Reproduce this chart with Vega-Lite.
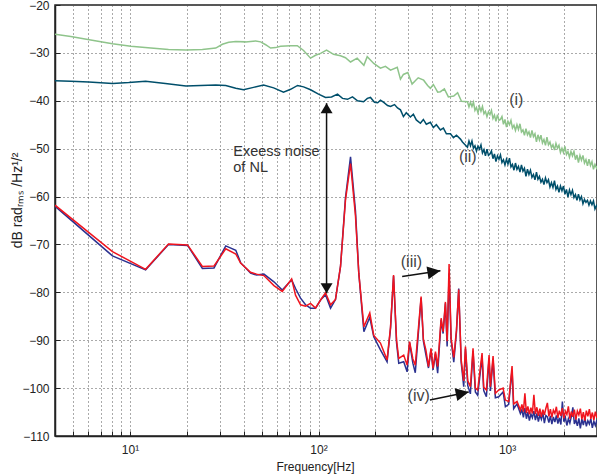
{
  "$schema": "https://vega.github.io/schema/vega-lite/v6.json",
  "width": 542,
  "height": 431,
  "autosize": {"type": "none"},
  "padding": {"left": 55, "top": 5, "right": 0, "bottom": 40},
  "background": "white",
  "config": {
    "font": "Liberation Sans",
    "view": {"stroke": "#222", "strokeWidth": 1.5}
  },
  "datasets": {
    "green": [
      {"f":4.0,"db":-26.1},{"f":4.85,"db":-26.6},{"f":6.19,"db":-27.3},{"f":8.07,"db":-28.1},{"f":10.1,"db":-28.6},{"f":12.9,"db":-29.0},{"f":16.0,"db":-29.3},{"f":19.8,"db":-29.4},{"f":24.2,"db":-29.3},{"f":28.5,"db":-29.0},{"f":30.9,"db":-28.2},{"f":33.4,"db":-27.8},{"f":36.4,"db":-27.6},{"f":41.0,"db":-27.7},{"f":46.4,"db":-27.5},{"f":49.3,"db":-27.7},{"f":52.4,"db":-28.3},{"f":55.7,"db":-29.0},{"f":59.2,"db":-28.9},{"f":62.9,"db":-28.6},{"f":71.1,"db":-28.5},{"f":77.2,"db":-28.5},{"f":83.3,"db":-29.5},{"f":90.7,"db":-31.1},{"f":96.4,"db":-30.5},{"f":102.5,"db":-30.1},{"f":110.3,"db":-29.4},{"f":120.1,"db":-30.3},{"f":130.8,"db":-30.6},{"f":139,"db":-31.0},{"f":147.8,"db":-31.9},{"f":160.3,"db":-31.1},{"f":174,"db":-32.6},{"f":181.2,"db":-30.8},{"f":196.3,"db":-32.2},{"f":213,"db":-33.2},{"f":226.4,"db":-32.8},{"f":241,"db":-33.6},{"f":261.5,"db":-33.0},{"f":272,"db":-35.5},{"f":282,"db":-34.5},{"f":297.5,"db":-34.1},{"f":313.5,"db":-36.5},{"f":326,"db":-35.8},{"f":337.8,"db":-35.2},{"f":361,"db":-35.7},{"f":379,"db":-36.8},{"f":392,"db":-37.4},{"f":406.5,"db":-36.6},{"f":428.6,"db":-38.2},{"f":443,"db":-38.1},{"f":465,"db":-37.5},{"f":488.4,"db":-39.2},{"f":521.6,"db":-39.0},{"f":546.7,"db":-38.3},{"f":573,"db":-40.1},
      {"f":616.6,"db":-40.2},{"f":628.0,"db":-41.3},{"f":639.6,"db":-40.3},{"f":651.4,"db":-41.2},{"f":663.4,"db":-40.3},{"f":675.7,"db":-42.0},{"f":688.2,"db":-41.4},{"f":700.9,"db":-42.5},{"f":713.9,"db":-41.2},{"f":727.1,"db":-42.2},{"f":740.5,"db":-41.2},{"f":754.2,"db":-42.7},{"f":768.1,"db":-42.2},{"f":782.3,"db":-43.3},{"f":796.8,"db":-42.3},{"f":811.5,"db":-42.9},{"f":826.5,"db":-42.0},{"f":841.8,"db":-43.7},{"f":857.4,"db":-43.0},{"f":873.2,"db":-44.3},{"f":889.4,"db":-42.9},{"f":905.8,"db":-44.1},{"f":922.6,"db":-43.9},{"f":939.6,"db":-43.3},{"f":957.0,"db":-44.9},{"f":974.7,"db":-43.9},{"f":992.7,"db":-45.5},{"f":1011.1,"db":-44.3},{"f":1029.8,"db":-45.0},{"f":1048.8,"db":-44.1},{"f":1068.2,"db":-45.7},{"f":1088.0,"db":-45.1},{"f":1108.1,"db":-46.2},{"f":1128.6,"db":-45.0},{"f":1149.4,"db":-46.0},{"f":1170.7,"db":-44.8},{"f":1192.3,"db":-46.5},{"f":1214.4,"db":-46.1},{"f":1236.8,"db":-47.2},{"f":1259.7,"db":-45.8},{"f":1283.0,"db":-47.1},{"f":1306.7,"db":-46.5},{"f":1330.9,"db":-47.7},{"f":1355.5,"db":-46.2},{"f":1380.5,"db":-47.5},{"f":1406.1,"db":-46.9},{"f":1432.1,"db":-48.6},{"f":1458.5,"db":-47.1},{"f":1485.5,"db":-48.2},{"f":1513.0,"db":-47.2},{"f":1541.0,"db":-48.8},{"f":1569.4,"db":-48.1},{"f":1598.5,"db":-49.3},{"f":1628.0,"db":-47.6},{"f":1658.1,"db":-49.2},{"f":1688.8,"db":-48.6},{"f":1720.0,"db":-49.8},{"f":1751.8,"db":-49.2},{"f":1784.2,"db":-50.3},{"f":1817.2,"db":-48.9},{"f":1850.8,"db":-49.9},{"f":1885.0,"db":-49.3},{"f":1919.9,"db":-50.8},{"f":1955.4,"db":-49.9},{"f":1991.5,"db":-50.8},{"f":2028.3,"db":-49.5},{"f":2065.8,"db":-51.2},{"f":2104.0,"db":-50.6},{"f":2142.9,"db":-51.8},{"f":2182.6,"db":-50.6},{"f":2222.9,"db":-51.5},{"f":2264.0,"db":-50.6},{"f":2305.9,"db":-52.3},{"f":2348.5,"db":-51.3},{"f":2391.9,"db":-52.9},{"f":2436.2,"db":-51.4},{"f":2481.2,"db":-52.4},{"f":2527.1,"db":-51.4},{"f":2573.8,"db":-53.0},{"f":2621.4,"db":-52.3},{"f":2669.9,"db":-53.6},{"f":2719.3,"db":-52.2},{"f":2769.5,"db":-53.5},{"f":2820.7,"db":-52.7},{"f":2872.9,"db":-54.3},{"f":2926.0,"db":-53.3},{"f":2980.1,"db":-54.0},{"f":3000,"db":-53.6}
    ],
    "teal": [
      {"f":4.0,"db":-35.8},{"f":4.85,"db":-35.9},{"f":6.04,"db":-36.1},{"f":8.09,"db":-36.4},{"f":9.85,"db":-36.2},{"f":12.1,"db":-35.9},{"f":15.4,"db":-36.4},{"f":19.8,"db":-36.9},{"f":23.7,"db":-36.8},{"f":28.5,"db":-36.7},{"f":32.2,"db":-36.8},{"f":36.4,"db":-37.4},{"f":40.0,"db":-37.7},{"f":45.2,"db":-37.2},{"f":51.1,"db":-36.7},{"f":57.8,"db":-37.3},{"f":65.2,"db":-38.2},{"f":71.1,"db":-37.6},{"f":77.4,"db":-36.8},{"f":83.3,"db":-37.1},{"f":90.7,"db":-37.7},{"f":100,"db":-38.6},{"f":108.9,"db":-39.3},{"f":117.2,"db":-39.2},{"f":126.1,"db":-38.6},{"f":134,"db":-39.5},{"f":142.4,"db":-39.7},{"f":151.4,"db":-39.2},{"f":161,"db":-40.0},{"f":173.3,"db":-40.2},{"f":181.5,"db":-39.5},{"f":188.6,"db":-39.3},{"f":198,"db":-40.3},{"f":206,"db":-40.4},{"f":213,"db":-39.9},{"f":221,"db":-40.3},{"f":232.4,"db":-41.0},{"f":241,"db":-41.2},{"f":253,"db":-40.8},{"f":262.4,"db":-41.5},{"f":272,"db":-41.9},{"f":282,"db":-43.3},{"f":292,"db":-42.5},{"f":307,"db":-43.4},{"f":318.4,"db":-42.8},{"f":330,"db":-44.0},{"f":347,"db":-44.7},{"f":359.7,"db":-43.9},{"f":373,"db":-44.9},{"f":392,"db":-44.5},{"f":406.5,"db":-45.6},{"f":421.7,"db":-45.0},{"f":443,"db":-46.1},{"f":459.5,"db":-45.7},{"f":476.6,"db":-46.9},{"f":501,"db":-46.9},{"f":519.7,"db":-47.7},{"f":539,"db":-47.2},{"f":566,"db":-48.0},{"f":580,"db":-48.6},
      {"f":616.6,"db":-49.7},{"f":628.0,"db":-48.4},{"f":639.6,"db":-49.4},{"f":651.4,"db":-48.4},{"f":663.4,"db":-49.9},{"f":675.7,"db":-49.4},{"f":688.2,"db":-50.5},{"f":700.9,"db":-49.5},{"f":713.9,"db":-50.1},{"f":727.1,"db":-49.2},{"f":740.5,"db":-50.9},{"f":754.2,"db":-50.2},{"f":768.1,"db":-51.5},{"f":782.3,"db":-50.1},{"f":796.8,"db":-51.4},{"f":811.5,"db":-51.1},{"f":826.5,"db":-50.5},{"f":841.8,"db":-52.1},{"f":857.4,"db":-51.1},{"f":873.2,"db":-52.7},{"f":889.4,"db":-51.5},{"f":905.8,"db":-52.2},{"f":922.6,"db":-51.3},{"f":939.6,"db":-52.9},{"f":957.0,"db":-52.3},{"f":974.7,"db":-53.4},{"f":992.7,"db":-52.2},{"f":1011.1,"db":-53.2},{"f":1029.8,"db":-52.0},{"f":1048.8,"db":-53.8},{"f":1068.2,"db":-53.3},{"f":1088.0,"db":-54.5},{"f":1108.1,"db":-53.0},{"f":1128.6,"db":-54.3},{"f":1149.4,"db":-53.7},{"f":1170.7,"db":-54.9},{"f":1192.3,"db":-53.4},{"f":1214.4,"db":-54.7},{"f":1236.8,"db":-54.1},{"f":1259.7,"db":-55.8},{"f":1283.0,"db":-54.3},{"f":1306.7,"db":-55.4},{"f":1330.9,"db":-54.5},{"f":1355.5,"db":-56.0},{"f":1380.5,"db":-55.4},{"f":1406.1,"db":-56.5},{"f":1432.1,"db":-54.9},{"f":1458.5,"db":-56.4},{"f":1485.5,"db":-55.8},{"f":1513.0,"db":-57.0},{"f":1541.0,"db":-56.4},{"f":1569.4,"db":-57.5},{"f":1598.5,"db":-56.1},{"f":1628.0,"db":-57.1},{"f":1658.1,"db":-56.5},{"f":1688.8,"db":-58.0},{"f":1720.0,"db":-57.1},{"f":1751.8,"db":-58.1},{"f":1784.2,"db":-56.7},{"f":1817.2,"db":-58.5},{"f":1850.8,"db":-57.8},{"f":1885.0,"db":-59.1},{"f":1919.9,"db":-57.8},{"f":1955.4,"db":-58.8},{"f":1991.5,"db":-57.8},{"f":2028.3,"db":-59.5},{"f":2065.8,"db":-58.5},{"f":2104.0,"db":-60.1},{"f":2142.9,"db":-58.6},{"f":2182.6,"db":-59.6},{"f":2222.9,"db":-58.7},{"f":2264.0,"db":-60.2},{"f":2305.9,"db":-59.6},{"f":2348.5,"db":-60.8},{"f":2391.9,"db":-59.5},{"f":2436.2,"db":-60.7},{"f":2481.2,"db":-60.0},{"f":2527.1,"db":-61.5},{"f":2573.8,"db":-60.6},{"f":2621.4,"db":-61.2},{"f":2669.9,"db":-60.8},{"f":2719.3,"db":-61.8},{"f":2769.5,"db":-60.9},{"f":2820.7,"db":-61.7},{"f":2872.9,"db":-60.9},{"f":2926.0,"db":-62.6},{"f":2980.1,"db":-61.9},{"f":3000,"db":-62.2}
    ],
    "blue": [
      {"f":4.0,"db":-62.0},{"f":8.07,"db":-72.4},{"f":12.1,"db":-75.3},{"f":16.0,"db":-70.0},{"f":20.2,"db":-70.2},{"f":24.2,"db":-75.0},{"f":27.9,"db":-74.9},{"f":32.2,"db":-70.3},{"f":36.4,"db":-71.2},{"f":38.6,"db":-73.8},{"f":43.6,"db":-76.0},{"f":46.9,"db":-76.4},{"f":51.3,"db":-76.2},{"f":58.0,"db":-77.8},{"f":64.2,"db":-79.5},{"f":72.0,"db":-77.4},{"f":75.5,"db":-79.2},{"f":80.3,"db":-81.2},{"f":85.3,"db":-82.6},{"f":90.7,"db":-83.3},{"f":96.4,"db":-83.3},{"f":102.5,"db":-81.6},{"f":108.9,"db":-80.5},{"f":115.8,"db":-83.3},{"f":123,"db":-81.5},{"f":130.8,"db":-74.6},{"f":139,"db":-60.2},{"f":147.8,"db":-51.7},{"f":157,"db":-63.0},{"f":163.5,"db":-76.0},{"f":174,"db":-88.2},{"f":187,"db":-85.2},{"f":196.3,"db":-89.3},{"f":213,"db":-92.0},{"f":231,"db":-94.5},{"f":241,"db":-87.5},{"f":250,"db":-76.6},{"f":259.3,"db":-90.5},{"f":266.4,"db":-94.8},{"f":283,"db":-94.5},{"f":295,"db":-96.6},{"f":304,"db":-90.5},{"f":316.5,"db":-94.8},{"f":326,"db":-96.8},{"f":350,"db":-81.2},{"f":360,"db":-90.2},{"f":371,"db":-93.0},{"f":383,"db":-95.8},{"f":395,"db":-92.0},{"f":405,"db":-96.2},{"f":417,"db":-92.8},{"f":428.5,"db":-96.9},{"f":447,"db":-85.8},{"f":458,"db":-88.6},{"f":471,"db":-82.3},{"f":481,"db":-91.3},{"f":492.6,"db":-76.0},{"f":505,"db":-90.0},{"f":521.6,"db":-94.6},{"f":539,"db":-88.3},{"f":554,"db":-79.2},{"f":571,"db":-94.6},{"f":589,"db":-99.7},{"f":601.6,"db":-91.8},{"f":619,"db":-99.5},{"f":639,"db":-101.2},{"f":660,"db":-92.3},{"f":679,"db":-100.8},{"f":698.5,"db":-101.5},{"f":737,"db":-93.5},{"f":752,"db":-100.5},{"f":777,"db":-101.8},{"f":803,"db":-93.8},{"f":816,"db":-100.6},{"f":843,"db":-94.0},{"f":867,"db":-102.0},{"f":903,"db":-101.8},{"f":953,"db":-100.8},{"f":980,"db":-103.9},{"f":1020,"db":-103.4},{"f":1063,"db":-96.2},{"f":1084,"db":-104.3},{"f":1130,"db":-103.3},
      {"f":1177,"db":-105.3},{"f":1198.8,"db":-104.5},{"f":1220.9,"db":-106.1},{"f":1243.5,"db":-104.2},{"f":1266.5,"db":-106.4},{"f":1289.9,"db":-105.0},{"f":1313.7,"db":-106.8},{"f":1338.0,"db":-105.4},{"f":1362.7,"db":-106.2},{"f":1387.9,"db":-104.8},{"f":1413.5,"db":-106.7},{"f":1439.6,"db":-105.3},{"f":1466.2,"db":-107.0},{"f":1493.3,"db":-105.6},{"f":1520.9,"db":-106.5},{"f":1549.0,"db":-105.2},{"f":1577.6,"db":-107.3},{"f":1606.8,"db":-105.7},{"f":1636.5,"db":-106.0},{"f":1666.7,"db":-107.2},{"f":1697.5,"db":-105.8},{"f":1728.9,"db":-107.5},{"f":1760.8,"db":-106.0},{"f":1793.3,"db":-107.1},{"f":1826.5,"db":-105.7},{"f":1860.2,"db":-107.4},{"f":1894.6,"db":-106.2},{"f":1929.6,"db":-107.6},{"f":1965.3,"db":-102.8},{"f":2001.6,"db":-107.0},{"f":2038.6,"db":-106.1},{"f":2076.2,"db":-107.8},{"f":2114.6,"db":-106.4},{"f":2153.7,"db":-107.3},{"f":2193.5,"db":-105.9},{"f":2234.0,"db":-104.0},{"f":2275.3,"db":-107.5},{"f":2317.3,"db":-106.6},{"f":2360.1,"db":-107.9},{"f":2403.7,"db":-106.3},{"f":2448.1,"db":-108.4},{"f":2493.4,"db":-106.5},{"f":2539.5,"db":-107.7},{"f":2586.4,"db":-106.2},{"f":2634.2,"db":-108.0},{"f":2682.8,"db":-106.8},{"f":2732.4,"db":-107.5},{"f":2782.9,"db":-106.4},{"f":2834.3,"db":-108.3},{"f":2886.7,"db":-106.9},{"f":2940.0,"db":-107.8},{"f":2994.3,"db":-106.7},{"f":3000,"db":-107.3}
    ],
    "red": [
      {"f":4.0,"db":-61.8},{"f":8.07,"db":-71.5},{"f":12.1,"db":-75.2},{"f":16.0,"db":-69.9},{"f":20.2,"db":-70.1},{"f":24.2,"db":-74.6},{"f":27.9,"db":-74.5},{"f":32.2,"db":-70.9},{"f":36.4,"db":-72.0},{"f":38.6,"db":-73.9},{"f":43.6,"db":-75.8},{"f":46.9,"db":-76.2},{"f":51.3,"db":-76.5},{"f":58.0,"db":-78.6},{"f":64.2,"db":-79.8},{"f":72.0,"db":-77.2},{"f":75.5,"db":-80.6},{"f":80.3,"db":-82.6},{"f":85.3,"db":-82.9},{"f":90.7,"db":-82.3},{"f":96.4,"db":-83.3},{"f":102.5,"db":-81.6},{"f":108.9,"db":-80.1},{"f":115.8,"db":-82.6},{"f":123,"db":-81.5},{"f":130.8,"db":-74.6},{"f":139,"db":-60.7},{"f":147.8,"db":-53.1},{"f":157,"db":-64.0},{"f":163.5,"db":-76.0},{"f":174,"db":-87.2},{"f":187,"db":-84.3},{"f":196.3,"db":-89.0},{"f":213,"db":-90.6},{"f":231,"db":-94.1},{"f":241,"db":-87.2},{"f":250,"db":-76.4},{"f":259.3,"db":-90.0},{"f":266.4,"db":-93.8},{"f":283,"db":-93.1},{"f":295,"db":-95.2},{"f":304,"db":-90.3},{"f":316.5,"db":-93.9},{"f":326,"db":-95.2},{"f":350,"db":-80.9},{"f":360,"db":-89.9},{"f":371,"db":-92.0},{"f":383,"db":-95.5},{"f":395,"db":-91.7},{"f":405,"db":-95.9},{"f":417,"db":-92.4},{"f":428.5,"db":-95.5},{"f":447,"db":-85.4},{"f":458,"db":-88.2},{"f":471,"db":-82.0},{"f":481,"db":-90.2},{"f":492.6,"db":-74.1},{"f":505,"db":-89.6},{"f":521.6,"db":-93.6},{"f":539,"db":-87.9},{"f":554,"db":-79.4},{"f":571,"db":-94.1},{"f":589,"db":-98.5},{"f":601.6,"db":-91.3},{"f":619,"db":-98.5},{"f":639,"db":-99.7},{"f":660,"db":-91.7},{"f":679,"db":-100.0},{"f":698.5,"db":-100.4},{"f":737,"db":-92.7},{"f":752,"db":-99.8},{"f":777,"db":-100.4},{"f":803,"db":-93.1},{"f":816,"db":-99.7},{"f":843,"db":-93.3},{"f":867,"db":-101.1},{"f":903,"db":-100.4},{"f":953,"db":-100.0},{"f":980,"db":-102.5},{"f":1020,"db":-102.8},{"f":1063,"db":-95.4},{"f":1084,"db":-103.3},{"f":1130,"db":-102.8},
      {"f":1177,"db":-104.6},{"f":1198.8,"db":-103.4},{"f":1220.9,"db":-104.9},{"f":1243.5,"db":-101.1},{"f":1266.5,"db":-105.2},{"f":1289.9,"db":-103.8},{"f":1313.7,"db":-105.5},{"f":1338.0,"db":-104.1},{"f":1362.7,"db":-105.3},{"f":1387.9,"db":-101.4},{"f":1413.5,"db":-105.4},{"f":1439.6,"db":-104.0},{"f":1466.2,"db":-105.8},{"f":1493.3,"db":-104.3},{"f":1520.9,"db":-106.0},{"f":1549.0,"db":-104.5},{"f":1577.6,"db":-105.6},{"f":1606.8,"db":-104.2},{"f":1636.5,"db":-103.1},{"f":1666.7,"db":-105.9},{"f":1697.5,"db":-104.4},{"f":1728.9,"db":-106.1},{"f":1760.8,"db":-104.6},{"f":1793.3,"db":-105.3},{"f":1826.5,"db":-103.9},{"f":1860.2,"db":-106.2},{"f":1894.6,"db":-104.7},{"f":1929.6,"db":-105.8},{"f":1965.3,"db":-104.2},{"f":2001.6,"db":-106.3},{"f":2038.6,"db":-104.8},{"f":2076.2,"db":-105.5},{"f":2114.6,"db":-103.8},{"f":2153.7,"db":-106.4},{"f":2193.5,"db":-104.9},{"f":2234.0,"db":-106.0},{"f":2275.3,"db":-104.5},{"f":2317.3,"db":-106.6},{"f":2360.1,"db":-104.8},{"f":2403.7,"db":-105.6},{"f":2448.1,"db":-104.3},{"f":2493.4,"db":-106.5},{"f":2539.5,"db":-105.0},{"f":2586.4,"db":-106.8},{"f":2634.2,"db":-104.7},{"f":2682.8,"db":-105.9},{"f":2732.4,"db":-104.4},{"f":2782.9,"db":-106.4},{"f":2834.3,"db":-105.1},{"f":2886.7,"db":-106.7},{"f":2940.0,"db":-104.9},{"f":2994.3,"db":-106.2},{"f":3000,"db":-105.6}
    ],
    "arrows": [
      {"id":"nl","f":110.3,"db":-40.5,"f2":110.3,"db2":-80.2},
      {"id":"iii","f":277.7,"db":-76.7,"f2":443,"db2":-75.5},
      {"id":"iv","f":389.6,"db":-102.5,"f2":626,"db2":-100.8}
    ],
    "heads": [
      {"id":"up","f":110.3,"db":-40.5},
      {"id":"down","f":110.3,"db":-80.2},
      {"id":"iii","f":443,"db":-75.5},
      {"id":"iv","f":626,"db":-100.8}
    ],
    "labels": [
      {"t":"(i)","f":1120,"db":-39.8},
      {"t":"(ii)","f":619,"db":-51.7},
      {"t":"(iii)","f":311,"db":-73.6},
      {"t":"(iv)","f":340,"db":-101.6}
    ],
    "note": [
      {"t":"Exeess noise","f":35.3,"db":-50.7},
      {"t":"of NL","f":35.3,"db":-54.1}
    ]
  },
  "encoding": {
    "x": {
      "field": "f", "type": "quantitative",
      "scale": {"type": "log", "domain": [4, 3000], "nice": false},
      "axis": {
        "title": "Frequency[Hz]",
        "values": [4,5,6,7,8,9,10,20,30,40,50,60,70,80,90,100,200,300,400,500,600,700,800,900,1000,2000,3000],
        "labelExpr": "datum.value == 10 ? '10¹' : datum.value == 100 ? '10²' : datum.value == 1000 ? '10³' : ''",
        "grid": true, "gridColor": "#555", "gridDash": [1, 3], "gridWidth": 1,
        "tickSize": -5, "tickColor": "#222", "tickWidth": 1,
        "labelPadding": 13, "labelFontSize": 12, "labelColor": "#222", "labelFlush": false, "labelOverlap": false,
        "domainColor": "#222", "domainWidth": 1.5,
        "titleFontSize": 12, "titleFontWeight": "normal", "titleColor": "#222",
        "titleX": 260, "titleY": 30, "titleBaseline": "middle", "titleAlign": "center"
      }
    },
    "y": {
      "field": "db", "type": "quantitative",
      "scale": {"domain": [-110, -20], "nice": false, "zero": false},
      "axis": {
        "title": "dB radᵣₘₛ /Hz¹/²",
        "values": [-110,-100,-90,-80,-70,-60,-50,-40,-30,-20],
        "grid": true, "gridColor": "#555", "gridDash": [1, 3], "gridWidth": 1,
        "tickSize": -5, "tickColor": "#222", "tickWidth": 1,
        "labelPadding": 11, "labelFontSize": 12, "labelColor": "#222", "labelFlush": false,
        "domainColor": "#222", "domainWidth": 1.5,
        "titleFontSize": 14, "titleFontWeight": "normal", "titleColor": "#222",
        "titleAngle": 270, "titleX": -38, "titleY": 195, "titleBaseline": "middle", "titleAlign": "center"
      }
    }
  },
  "layer": [
    {"data": {"name": "green"}, "mark": {"type": "line", "color": "#8fc48b", "strokeWidth": 1.5, "clip": true}},
    {"data": {"name": "teal"}, "mark": {"type": "line", "color": "#004f6b", "strokeWidth": 1.5, "clip": true}},
    {"data": {"name": "blue"}, "mark": {"type": "line", "color": "#2b3190", "strokeWidth": 1.5, "clip": true}},
    {"data": {"name": "red"}, "mark": {"type": "line", "color": "#f0141e", "strokeWidth": 1.5, "clip": true}},
    {"data": {"name": "arrows"}, "mark": {"type": "rule", "color": "#111", "strokeWidth": 1.5},
     "encoding": {"x2": {"field": "f2"}, "y2": {"field": "db2"}}},
    {"data": {"name": "heads"}, "transform": [{"filter": "datum.id == 'up'"}],
     "mark": {"type": "point", "shape": "M0,0L-0.6,1L0.6,1Z", "filled": true, "color": "#111", "opacity": 1, "size": 400, "strokeWidth": 0}},
    {"data": {"name": "heads"}, "transform": [{"filter": "datum.id == 'down'"}],
     "mark": {"type": "point", "shape": "M0,0L-0.6,-1L0.6,-1Z", "filled": true, "color": "#111", "opacity": 1, "size": 400, "strokeWidth": 0}},
    {"data": {"name": "heads"}, "transform": [{"filter": "datum.id == 'iii'"}],
     "mark": {"type": "point", "shape": "M0,0L-1,-0.5L-1,0.5Z", "angle": 351, "filled": true, "color": "#111", "opacity": 1, "size": 676, "strokeWidth": 0}},
    {"data": {"name": "heads"}, "transform": [{"filter": "datum.id == 'iv'"}],
     "mark": {"type": "point", "shape": "M0,0L-1,-0.5L-1,0.5Z", "angle": 348, "filled": true, "color": "#111", "opacity": 1, "size": 676, "strokeWidth": 0}},
    {"data": {"name": "labels"}, "mark": {"type": "text", "fontSize": 16, "color": "#444", "align": "center", "baseline": "middle"},
     "encoding": {"text": {"field": "t"}}},
    {"data": {"name": "note"}, "mark": {"type": "text", "fontSize": 14.5, "color": "#333", "align": "left", "baseline": "middle"},
     "encoding": {"text": {"field": "t"}}}
  ]
}
